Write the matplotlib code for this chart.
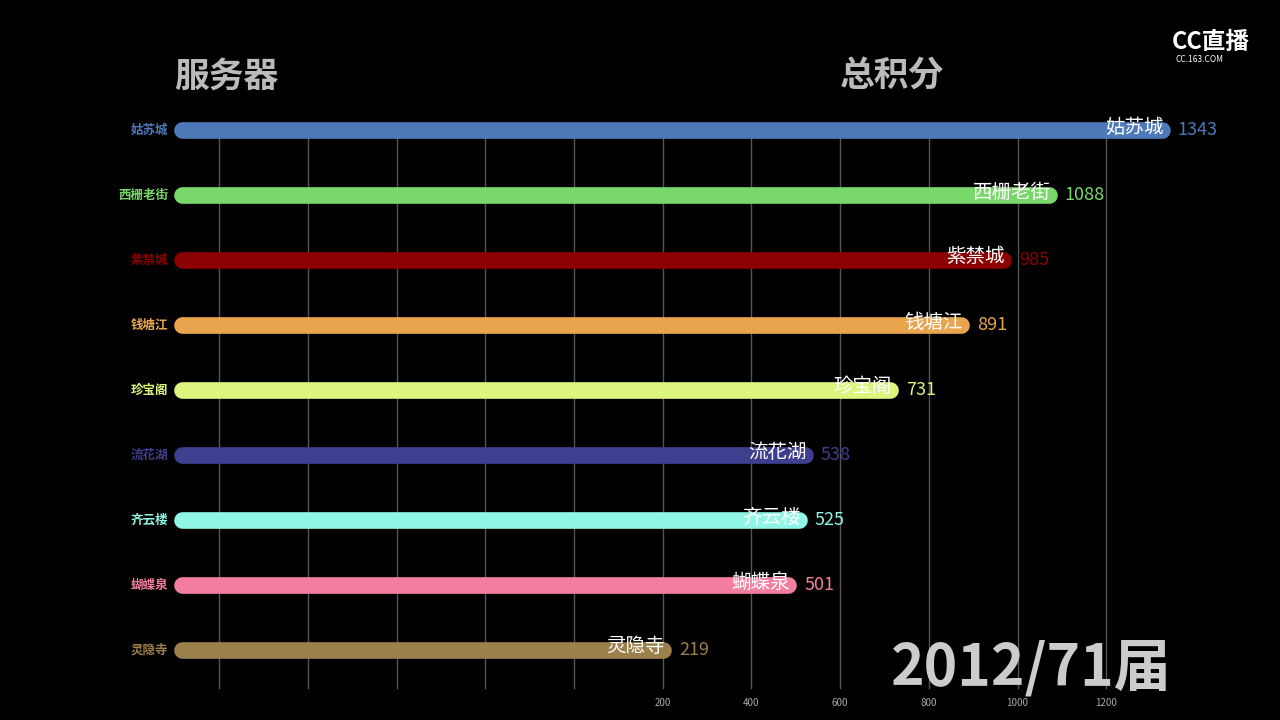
import matplotlib
matplotlib.use("Agg")
import matplotlib.pyplot as plt
from matplotlib import font_manager as fm

cands = [f for f in fm.findSystemFonts() if "CJK" in f or "cjk" in f.lower()]
fam = None
for f in sorted(cands):
    try:
        fm.fontManager.addfont(f)
        name = fm.FontProperties(fname=f).get_name()
        if fam is None or "SC" in name:
            fam = name
    except Exception:
        pass
plt.rcParams['font.family'] = 'sans-serif'
plt.rcParams['font.sans-serif'] = ([fam] if fam else []) + ['Noto Sans CJK SC', 'Noto Sans CJK JP', 'DejaVu Sans']

names = ["姑苏城", "西栅老街", "紫禁城", "钱塘江", "珍宝阁", "流花湖", "齐云楼", "蝴蝶泉", "灵隐寺"]
values = [1343, 1088, 985, 891, 731, 538, 525, 501, 219]
colors = ["#4e79b8", "#78d86a", "#8b0000", "#e9a54e", "#dcf57e", "#3f3f8f", "#8ff5e6", "#f47ea0", "#9c804c"]
grid_vals = [-800, -600, -400, -200, 0, 200, 400, 600, 800, 1000, 1200]
tick_vals = [200, 400, 600, 800, 1000, 1200]

fig = plt.figure(figsize=(12.8, 7.2), dpi=100, facecolor="black")
ax = fig.add_axes([0, 0, 1, 1], facecolor="black")
px = 0.4435
x0 = 574
xmin = -x0 / px
xmax = (1280 - x0) / px
start = (174 - x0) / px
ax.set_xlim(xmin, xmax)
ax.set_ylim(720, 0)
ax.axis("off")

for g in grid_vals:
    ax.plot([g, g], [138, 688], color="#555555", lw=1, zorder=1)
for t in tick_vals:
    ax.text(t, 703, str(t), color="#aaaaaa", fontsize=7, ha="center", va="center")

for i, (n, v, c) in enumerate(zip(names, values, colors)):
    y = 130 + i * 65
    ax.plot([start + 8 / px, v - 8 / px], [y, y], color=c, lw=12, solid_capstyle="round", zorder=2)
    ax.text(v - 6 / px, y - 3, n, color="white", fontsize=14, ha="right", va="center", zorder=3)
    ax.text(v + 8 / px, y, str(v), color=c, fontsize=13, ha="left", va="center", zorder=3)
    ax.text(start - 6 / px, y, n, color=c, fontsize=9, ha="right", va="center", fontweight="bold")

ax.text(start, 76, "服务器", color="#bbbbbb", fontsize=25, fontweight="bold", ha="left", va="center")
ax.text((840 - x0) / px, 76, "总积分", color="#bbbbbb", fontsize=25, fontweight="bold", ha="left", va="center")
ax.text((1172 - x0) / px, 668, "2012/71届", color="#cccccc", fontsize=41, fontweight="bold", ha="right", va="center")
ax.text((1172 - x0) / px, 42, "CC直播", color="white", fontsize=17, fontweight="bold", ha="left", va="center")
ax.text((1175 - x0) / px, 59, "CC.163.COM", color="white", fontsize=6, ha="left", va="center")

fig.savefig("out.png", dpi=100, facecolor="black")
